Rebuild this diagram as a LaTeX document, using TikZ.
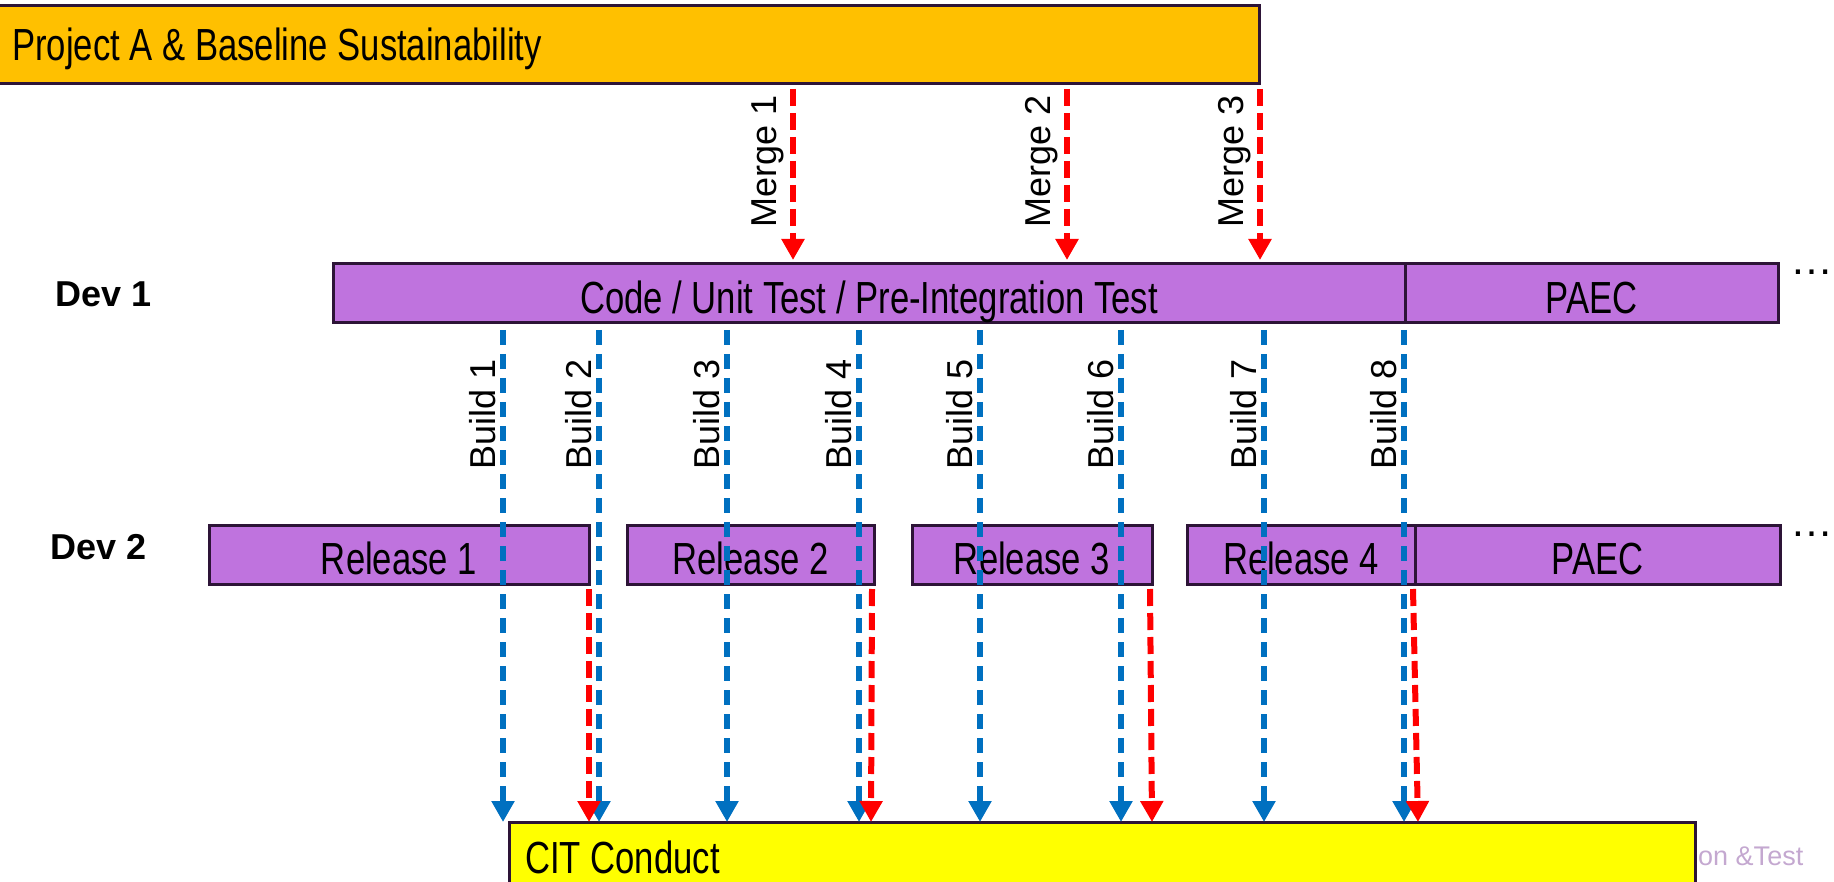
\documentclass[tikz,border=0pt]{standalone}
\usepackage{fontspec}
\setmainfont{Liberation Sans}
\usetikzlibrary{arrows.meta}

\definecolor{barorange}{RGB}{255,192,0}
\definecolor{barpurple}{RGB}{191,115,222}
\definecolor{cityellow}{RGB}{255,255,0}
\definecolor{edgedark}{RGB}{45,20,55}
\definecolor{buildblue}{RGB}{0,112,192}
\definecolor{mergered}{RGB}{255,0,0}
\definecolor{fadedtext}{RGB}{196,168,208}

% condensed text used inside the bars
\newcommand{\barcaption}[1]{\scalebox{0.77}[1]{#1}}

\begin{document}
\begin{tikzpicture}[x=1pt,y=-1pt,
  bar/.style={draw=edgedark, line width=3pt, inner sep=0pt, outer sep=0pt,
              anchor=north west, minimum height=59pt},
  bartext/.style={anchor=base, inner sep=0pt, font=\fontsize{45}{50}\selectfont},
  sidetext/.style={inner sep=0pt, font=\fontsize{36}{40}\selectfont\bfseries},
  vlabel/.style={rotate=90, anchor=base, inner sep=0pt, font=\fontsize{36}{40}\selectfont},
  morebar/.style={anchor=base west, inner sep=0pt, font=\fontsize{43}{46}\selectfont},
  buildarrow/.style={draw=buildblue, line width=6pt, dash pattern=on 15pt off 9pt,
                     -{Triangle[length=21pt,width=22pt]}, buildblue},
  mergearrow/.style={draw=mergered, line width=6pt, dash pattern=on 17pt off 7pt,
                     -{Triangle[length=21pt,width=22pt]}, mergered}
]
\useasboundingbox (0,0) rectangle (1834,882);

% ---- bars -------------------------------------------------------------
\node[bar, fill=barorange, minimum width=1264pt, minimum height=78pt] (proj) at (-5,6) {};
\node[bartext, anchor=base west] (projtxt) at (12,61) {\barcaption{Project A \& Baseline Sustainability}};

\node[bar, fill=barpurple, minimum width=1072pt] (code) at (333,264) {};
\node[bar, fill=barpurple, minimum width=373pt] (paeca) at (1405,264) {};
\node[bartext] (codetxt) at ([yshift=-20pt]code.center) {\barcaption{Code / Unit Test / Pre-Integration Test}};
\node[bartext] (paecatxt) at ([yshift=-20pt]paeca.center) {\barcaption{PAEC}};

\node[bar, fill=barpurple, minimum width=380pt] (rela) at (209,525) {};
\node[bar, fill=barpurple, minimum width=247pt] (relb) at (627,525) {};
\node[bar, fill=barpurple, minimum width=240pt] (relc) at (912,525) {};
\node[bar, fill=barpurple, minimum width=228pt] (reld) at (1187,525) {};
\node[bar, fill=barpurple, minimum width=365pt] (paecb) at (1415,525) {};
\node[bartext] (relatxt) at ([yshift=-20pt]rela.center) {\barcaption{Release 1}};
\node[bartext] (relbtxt) at ([yshift=-20pt]relb.center) {\barcaption{Release 2}};
\node[bartext] (relctxt) at ([yshift=-20pt]relc.center) {\barcaption{Release 3}};
\node[bartext] (reldtxt) at ([yshift=-20pt]reld.center) {\barcaption{Release 4}};
\node[bartext] (paecbtxt) at ([yshift=-20pt]paecb.center) {\barcaption{PAEC}};

\node[anchor=base west, inner sep=0pt, text=fadedtext, font=\fontsize{27}{32}\selectfont] (ittxt) at (1692,865) {ion \&Test};
\node[bar, fill=cityellow, minimum width=1186pt, minimum height=80pt] (cit) at (509,822) {};
\node[bartext, anchor=base west] (cittxt) at (525,873) {\barcaption{CIT Conduct}};

% ---- row captions and continuation marks -------------------------------
\node[sidetext, anchor=base west] (deva) at (55,307) {Dev 1};
\node[sidetext, anchor=base west] (devb) at (50,559) {Dev 2};
\node[morebar] (morea) at (1790,275) {…};
\node[morebar] (moreb) at (1790,536) {…};

% ---- merges from the baseline into Dev 1 --------------------------------
\foreach \i/\x in {1/793, 2/1067, 3/1260} {
  \coordinate (m\i) at (\x,0);
  \draw[mergearrow] ([yshift=-5pt]proj.south -| m\i) -- ([yshift=4pt]code.north -| m\i);
  \node[vlabel] (mlab\i) at (\x-17,161) {Merge \i};
}

% ---- builds from Dev 1 into CIT -----------------------------------------
\foreach \i/\x in {1/503, 2/599, 3/727, 4/859, 5/980, 6/1121, 7/1264, 8/1404} {
  \coordinate (b\i) at (\x,0);
  \draw[buildarrow] ([yshift=-7pt]code.south -| b\i) -- (cit.north -| b\i);
  \node[vlabel] (blab\i) at (\x-8,414) {Build \i};
}

% ---- releases from Dev 2 into CIT ---------------------------------------
\coordinate (ra) at (589,0);  \coordinate (rat) at (589,0);
\coordinate (rb) at (871,0);  \coordinate (rbt) at (872,0);
\coordinate (rc) at (1152,0); \coordinate (rct) at (1150,0);
\coordinate (rd) at (1418,0); \coordinate (rdt) at (1413,0);
\draw[mergearrow] ([yshift=-5pt]rela.south -| rat) -- (cit.north -| ra);
\draw[mergearrow] ([yshift=-5pt]relb.south -| rbt) -- (cit.north -| rb);
\draw[mergearrow] ([yshift=-5pt]relc.south -| rct) -- (cit.north -| rc);
\draw[mergearrow] ([yshift=-5pt]reld.south -| rdt) -- (cit.north -| rd);
\end{tikzpicture}
\end{document}
